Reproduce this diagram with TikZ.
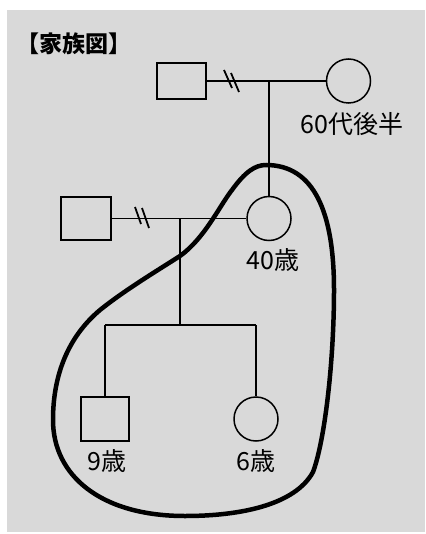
\documentclass[tikz,border=0pt]{standalone}
\usepackage{fontspec}
\newfontfamily\jp{Noto Sans CJK JP}
\definecolor{panelbg}{HTML}{D9D9D9}
\tikzset{
  male/.style={draw=black, line width=1.8pt, rectangle, inner sep=0pt},
  female/.style={draw=black, line width=1.5pt, circle, minimum size=44pt, inner sep=0pt},
  thickline/.style={line width=2.4pt},
  thinline/.style={line width=1.2pt},
  slash/.style={line width=1.8pt},
  lab/.style={font=\jp\fontsize{25}{25}\selectfont, inner sep=0pt},
  title/.style={font=\jp\bfseries\fontsize{23}{23}\selectfont, inner sep=0pt},
  blob/.style={line width=4.5pt, line join=round}
}
\begin{document}
\begin{tikzpicture}[x=1pt,y=-1pt]
\useasboundingbox (0,0) rectangle (425,534);
\fill[white] (0,0) rectangle (425,534);
\fill[panelbg] (7,10) rectangle (425,532);

\node[title] (ttl) at (74,44) {【家族図】};

% grandparents
\node[male, minimum width=49pt, minimum height=36pt] (gf) at (181.5,81) {};
\node[female] (gm) at (348.5,81) {};
\node[lab] (gmlab) at (352,124) {60代後半};
\draw[thickline] (gf.east) -- (gm.west);
\draw[slash] (224,70) -- (232,88);
\draw[slash] (231,73) -- (239,92);

% parents
\node[male, minimum width=50pt, minimum height=43pt] (fa) at (86,218.5) {};
\node[female] (mo) at (269,218.5) {};
\node[lab] (molab) at (273,260) {40歳};
\draw[thickline] (mo.north) -- (mo.north |- gf.east);
\draw[thinline] (fa.east) -- (mo.west);
\draw[slash] (135,207) -- (141,224);
\draw[slash] (142,208) -- (149,228);

% children
\coordinate (pdrop) at (180,218.5);
\coordinate (sib) at (180,325);
\node[male, minimum width=48pt, minimum height=44pt] (son) at (105,419) {};
\node[female] (dau) at (256,419) {};
\node[lab] (sonlab) at (107,461) {9歳};
\node[lab] (daulab) at (256,461) {6歳};
\draw[thinline] (pdrop) -- (sib);
\draw[thinline] (son.north |- sib) -- (dau.north |- sib);
\draw[thinline] (son.north) -- (son.north |- sib);
\draw[thinline] (dau.north) -- (dau.north |- sib);

% household outline
\draw[blob] (266,165)
  .. controls (314,165) and (334,212) .. (334,290)
  .. controls (334,360) and (325,440) .. (313,472)
  .. controls (295,505) and (240,516) .. (185,516)
  .. controls (100,516) and (53,475) .. (53,420)
  .. controls (53,375) and (68,337) .. (100,310)
  .. controls (125,290) and (155,272) .. (180,256)
  .. controls (205,238) and (220,205) .. (232,190)
  .. controls (245,172) and (255,165) .. cycle;
\end{tikzpicture}
\end{document}
